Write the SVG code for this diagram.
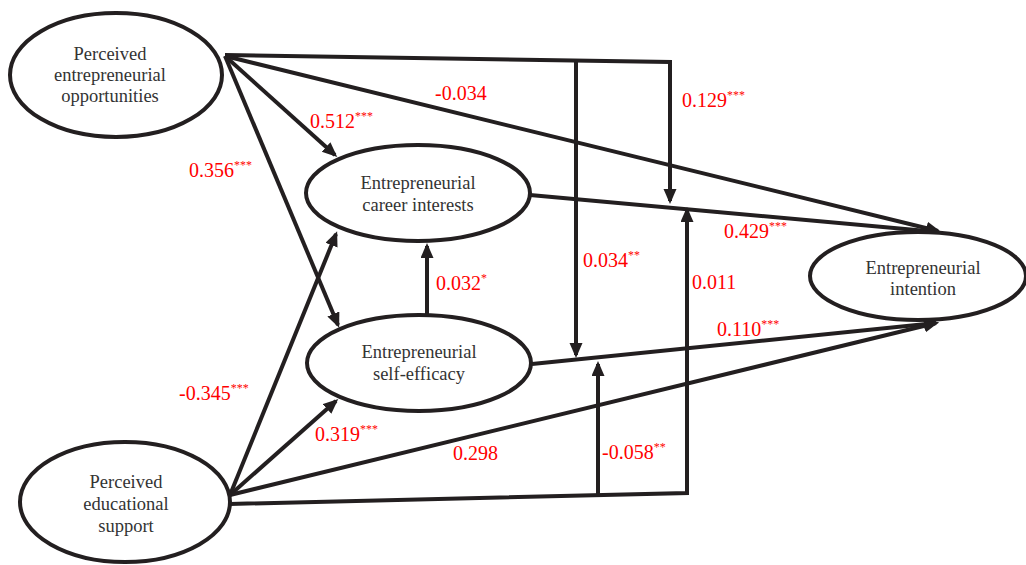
<svg xmlns="http://www.w3.org/2000/svg" width="1026" height="565" viewBox="0 0 1026 565">
<style>
.node ellipse{fill:#fff;stroke:#231f20;stroke-width:4}
.nt{font-family:"Liberation Serif",serif;font-size:18.5px;fill:#333;text-anchor:middle}
.lbl{font-family:"Liberation Serif",serif;font-size:20px;fill:#f00}
.st{font-size:12px}
.c{fill:none;stroke:#231f20;stroke-width:4;stroke-linejoin:miter}
.a{marker-end:url(#ah)}
</style>
<defs>
<marker id="ah" markerUnits="userSpaceOnUse" markerWidth="16" markerHeight="14" refX="12" refY="6.5" orient="auto">
<path d="M0,0 L15,6.5 L0,13 z" fill="#231f20"/>
</marker>
</defs>
<rect width="1026" height="565" fill="#fff"/>
<g id="connectors">
<path class="c a" d="M225,55 L670,62 L670,201"/>
<path class="c a" d="M576,61 L576,355"/>
<path class="c a" d="M225,56 L938,231"/>
<path class="c a" d="M225,56 L335,155"/>
<path class="c a" d="M225,56 L338,325"/>
<path class="c a" d="M530,195 L938,232"/>
<path class="c a" d="M532,364 L936,323"/>
<path class="c a" d="M230,495 L336,234"/>
<path class="c a" d="M230,495 L336,401"/>
<path class="c a" d="M230,495 L936,323"/>
<path class="c a" d="M230,504 L687,493 L687,210"/>
<path class="c a" d="M598,495 L598,364"/>
<path class="c a" d="M427,315 L427,246"/>
</g>
<g id="n-peo" class="node">
<ellipse cx="116" cy="75" rx="106" ry="62"/>
<text class="nt" x="110" y="60">Perceived</text>
<text class="nt" x="110" y="81">entrepreneurial</text>
<text class="nt" x="110" y="102">opportunities</text>
</g>
<g id="n-eci" class="node">
<ellipse cx="418" cy="193" rx="112" ry="48"/>
<text class="nt" x="418" y="189">Entrepreneurial</text>
<text class="nt" x="418" y="211">career interests</text>
</g>
<g id="n-ese" class="node">
<ellipse cx="419" cy="363" rx="112" ry="48"/>
<text class="nt" x="419" y="358">Entrepreneurial</text>
<text class="nt" x="419" y="380">self-efficacy</text>
</g>
<g id="n-ei" class="node">
<ellipse cx="918" cy="276" rx="108" ry="44"/>
<text class="nt" x="923" y="274">Entrepreneurial</text>
<text class="nt" x="923" y="295">intention</text>
</g>
<g id="n-pes" class="node">
<ellipse cx="125" cy="502" rx="105" ry="60"/>
<text class="nt" x="126" y="488">Perceived</text>
<text class="nt" x="126" y="510">educational</text>
<text class="nt" x="126" y="532">support</text>
</g>
<g id="labels">
<text class="lbl" x="310" y="128">0.512<tspan class="st" dy="-8">***</tspan></text>
<text class="lbl" x="435" y="100">-0.034</text>
<text class="lbl" x="682" y="107">0.129<tspan class="st" dy="-8">***</tspan></text>
<text class="lbl" x="189" y="177">0.356<tspan class="st" dy="-8">***</tspan></text>
<text class="lbl" x="724" y="238">0.429<tspan class="st" dy="-8">***</tspan></text>
<text class="lbl" x="692" y="289">0.011</text>
<text class="lbl" x="717" y="336">0.110<tspan class="st" dy="-8">***</tspan></text>
<text class="lbl" x="436" y="290">0.032<tspan class="st" dy="-8">*</tspan></text>
<text class="lbl" x="583" y="267">0.034<tspan class="st" dy="-8">**</tspan></text>
<text class="lbl" x="179" y="400">-0.345<tspan class="st" dy="-8">***</tspan></text>
<text class="lbl" x="315" y="441">0.319<tspan class="st" dy="-8">***</tspan></text>
<text class="lbl" x="453" y="460">0.298</text>
<text class="lbl" x="602" y="459">-0.058<tspan class="st" dy="-8">**</tspan></text>
</g>
</svg>
